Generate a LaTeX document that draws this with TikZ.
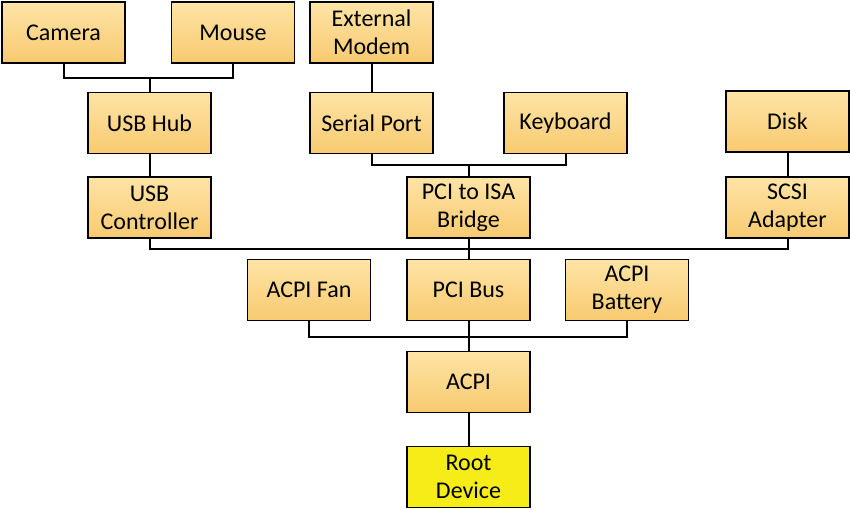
\documentclass[tikz,border=0pt]{standalone}
\usepackage{fontspec}
\setmainfont{Carlito}
\definecolor{boxtop}{RGB}{254,228,166}
\definecolor{boxbot}{RGB}{248,202,112}
\definecolor{rootyel}{RGB}{245,236,24}
\begin{document}
\begin{tikzpicture}[x=1pt,y=-1pt,
  box/.style={draw=black, line width=1.5pt, minimum width=123pt, minimum height=61pt,
    inner sep=0pt, align=center, top color=boxtop, bottom color=boxbot,
    font=\fontsize{24}{28}\selectfont},
  rootbox/.style={box, top color=rootyel, bottom color=rootyel, fill=rootyel},
  link/.style={draw=black, line width=2pt}]
\useasboundingbox (0,0) rectangle (850,509);
\node[box] (cam) at (63.5,32.5) {Camera};
\node[box] (mouse) at (233,32.5) {Mouse};
\node[box] (modem) at (371.5,32.5) {External\\Modem};
\node[box] (hub) at (149.5,123) {USB Hub};
\node[box] (serial) at (371.5,123) {Serial Port};
\node[box] (kbd) at (565.5,123) {Keyboard};
\node[box] (disk) at (787.5,121.5) {Disk};
\node[box] (usbc) at (149.5,207.5) {USB\\Controller};
\node[box] (isa) at (468.5,207.5) {PCI to ISA\\Bridge};
\node[box] (scsi) at (787.5,207.5) {SCSI\\Adapter};
\node[box] (fan) at (309,290) {ACPI Fan};
\node[box] (pcibus) at (468.5,290) {PCI Bus};
\node[box] (batt) at (627,290) {ACPI\\Battery};
\node[box] (acpi) at (468.5,382) {ACPI};
\node[rootbox] (root) at (468.5,477) {Root\\Device};
% connectors
\draw[link] (cam.south) |- (hub.north |- 0,77.5) -| (mouse.south);
\draw[link] (hub.north) -- (hub.north |- 0,77.5);
\draw[link] (modem) -- (serial);
\draw[link] (serial.south) |- (isa.north |- 0,164.5) -| (kbd.south);
\draw[link] (isa.north) -- (isa.north |- 0,164.5);
\draw[link] (hub) -- (usbc);
\draw[link] (disk) -- (scsi);
\draw[link] (usbc.south) |- (pcibus.north |- 0,248.5) -| (scsi.south);
\draw[link] (isa.south) -- (pcibus.north);
\draw[link] (fan.south) |- (acpi.north |- 0,336.5) -| (batt.south);
\draw[link] (pcibus.south) -- (acpi.north);
\draw[link] (acpi) -- (root);
\end{tikzpicture}
\end{document}
